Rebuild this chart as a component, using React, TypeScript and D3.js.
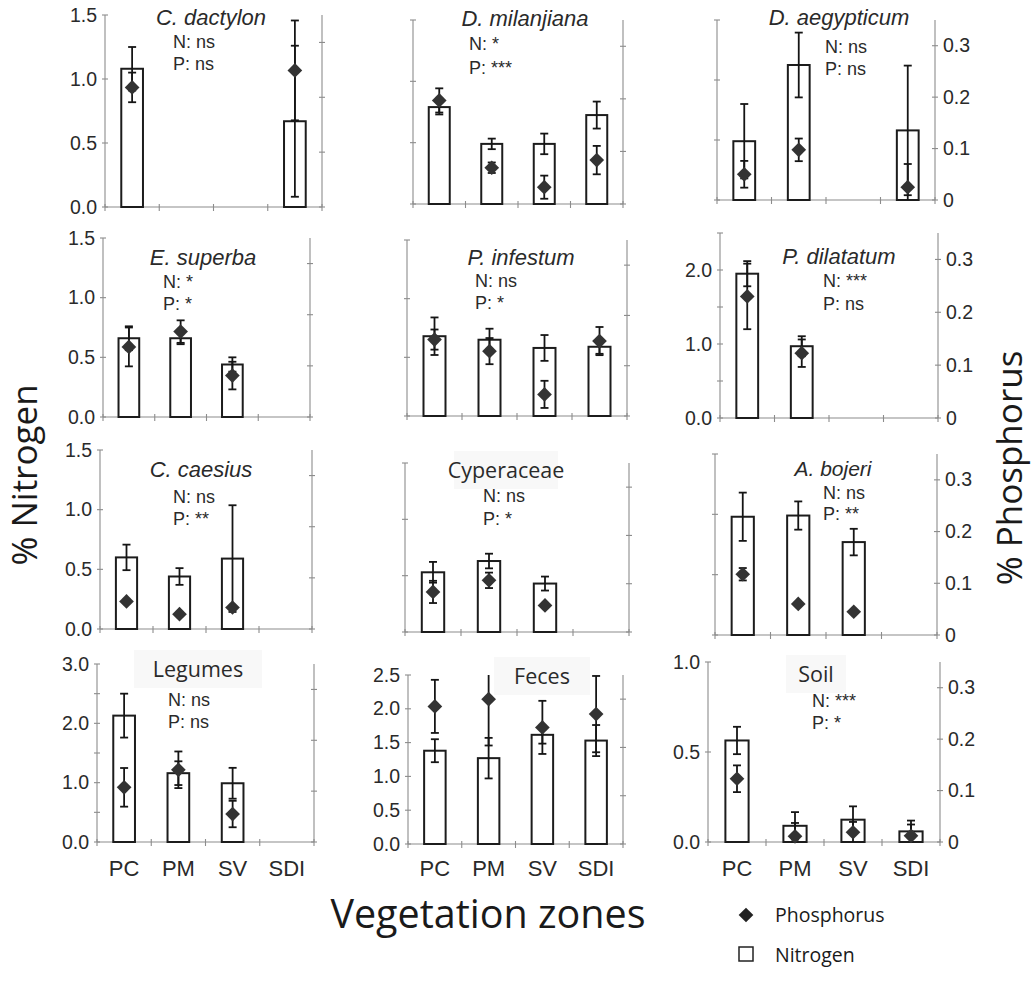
import React from "react";
import * as d3 from "d3";

// ---------- DATA ----------
const zones = ["PC", "PM", "SV", "SDI"];

const panelTitles = [
  "C. dactylon", "D. milanjiana", "D. aegypticum",
  "E. superba", "P. infestum", "P. dilatatum",
  "C. caesius", "Cyperaceae", "A. bojeri",
  "Legumes", "Feces", "Soil",
];
const titleItalic = [true, true, true, true, true, true, true, false, true, false, false, false];

const nSignif = ["ns", "*", "ns", "*", "ns", "***", "ns", "ns", "ns", "ns", null, "***"];
const pSignif = ["ns", "***", "ns", "*", "*", "ns", "**", "*", "**", "ns", null, "*"];

// % Nitrogen axis maximum per panel
const nitrogenMax = [1.5, 1.5, 1.5, 1.5, 1.5, 2.5, 1.5, 1.5, 1.5, 3.0, 2.5, 1.0];
const nitrogenStep = 0.5;
// panels labelled only at whole numbers
const nitrogenWholeLabels = [false, false, false, false, false, true, false, false, false, true, false, false];
const phosphorusMax = 0.35;
const phosphorusTicks = [0, 0.1, 0.2, 0.3];

// Nitrogen means (bars) and errors, per panel, per zone (PC, PM, SV, SDI)
const nitrogenMean: (number | null)[][] = [
  [1.08, null, null, 0.67],
  [0.79, 0.49, 0.49, 0.725],
  [0.49, 1.125, null, 0.58],
  [0.66, 0.66, 0.44, null],
  [0.68, 0.65, 0.58, 0.59],
  [1.95, 0.97, null, null],
  [0.6, 0.44, 0.59, null],
  [0.53, 0.63, 0.43, null],
  [0.98, 0.99, 0.77, null],
  [2.13, 1.16, 0.99, null],
  [1.38, 1.27, 1.615, 1.53],
  [0.564, 0.09, 0.124, 0.059],
];
const nitrogenErr: (number | null)[][] = [
  [0.17, null, null, 0.59],
  [0.06, 0.043, 0.084, 0.11],
  [0.31, 0.27, null, 0.54],
  [0.1, 0.05, 0.06, null],
  [0.16, 0.094, 0.11, 0.06],
  [0.17, 0.135, null, null],
  [0.107, 0.07, 0.447, null],
  [0.092, 0.065, 0.062, null],
  [0.2, 0.117, 0.11, null],
  [0.37, 0.2, 0.26, null],
  [0.17, 0.3, 0.13, 0.23],
  [0.076, 0.076, 0.074, 0.06],
];
// Phosphorus means (diamonds) and errors
const phosphorusMean: (number | null)[][] = [
  [0.218, null, null, 0.249],
  [0.197, 0.069, 0.032, 0.0835],
  [0.05, 0.0975, null, 0.025],
  [0.137, 0.167, 0.081, null],
  [0.152, 0.129, 0.043, 0.149],
  [0.23, 0.1226, null, null],
  [0.054, 0.029, 0.042, null],
  [0.083, 0.107, 0.055, null],
  [0.1175, 0.06, 0.045, null],
  [0.1075, 0.142, 0.055, null],
  [0.285, 0.3, 0.2415, 0.269],
  [0.123, 0.011, 0.019, 0.012],
];
const phosphorusErr: (number | null)[][] = [
  [0.027, null, null, 0.091],
  [0.023, 0.01, 0.022, 0.027],
  [0.026, 0.022, null, 0.045],
  [0.038, 0.022, 0.027, null],
  [0.02, 0.026, 0.027, 0.028],
  [0.062, 0.026, null, null],
  [0, 0, 0, null],
  [0.023, 0.016, 0, null],
  [0.012, 0, 0, null],
  [0.038, 0.036, 0.026, null],
  [0.055, 0.096, 0.055, 0.079],
  [0.026, 0.026, 0.02, 0.022],
];

// ---------- LAYOUT ----------
type Layout = {
  x0: number; x1: number; y0: number; y1: number;
  leftLabels: boolean; rightLabels: boolean; xLabels: boolean;
  tx: number; ty: number; tsize: number; sx: number; sy1: number; sy2: number;
  box?: number; // width of faint title box
};
const layouts: Layout[] = [
  { x0: 105, x1: 322, y0: 15, y1: 207, leftLabels: true, rightLabels: false, xLabels: false, tx: 211, ty: 25, tsize: 22, sx: 173, sy1: 48, sy2: 70 },
  { x0: 413, x1: 623, y0: 20, y1: 204, leftLabels: false, rightLabels: false, xLabels: false, tx: 525, ty: 26, tsize: 22, sx: 469, sy1: 50, sy2: 74 },
  { x0: 717, x1: 935, y0: 20, y1: 200, leftLabels: false, rightLabels: true, xLabels: false, tx: 839, ty: 25, tsize: 22, sx: 825, sy1: 53, sy2: 75 },
  { x0: 103, x1: 310, y0: 238, y1: 417, leftLabels: true, rightLabels: false, xLabels: false, tx: 203, ty: 265, tsize: 22, sx: 163, sy1: 288, sy2: 310 },
  { x0: 407, x1: 627, y0: 240, y1: 416, leftLabels: false, rightLabels: false, xLabels: false, tx: 521, ty: 265, tsize: 22, sx: 475, sy1: 287, sy2: 309 },
  { x0: 720, x1: 938, y0: 233, y1: 418, leftLabels: true, rightLabels: true, xLabels: false, tx: 839, ty: 264, tsize: 22, sx: 823, sy1: 287, sy2: 310 },
  { x0: 100, x1: 312, y0: 450, y1: 629, leftLabels: true, rightLabels: false, xLabels: false, tx: 201, ty: 477, tsize: 22, sx: 173, sy1: 503, sy2: 525 },
  { x0: 405, x1: 629, y0: 463, y1: 632, leftLabels: false, rightLabels: false, xLabels: false, tx: 506, ty: 478, tsize: 21.5, sx: 483, sy1: 502, sy2: 525, box: 104 },
  { x0: 715, x1: 937, y0: 454, y1: 635, leftLabels: false, rightLabels: true, xLabels: false, tx: 833, ty: 476, tsize: 21, sx: 823, sy1: 499, sy2: 520 },
  { x0: 97, x1: 314, y0: 664, y1: 842, leftLabels: true, rightLabels: false, xLabels: true, tx: 198, ty: 677, tsize: 21.5, sx: 168, sy1: 706, sy2: 728, box: 128 },
  { x0: 408, x1: 623, y0: 675, y1: 844, leftLabels: true, rightLabels: false, xLabels: true, tx: 542, ty: 684, tsize: 21.5, sx: 0, sy1: 0, sy2: 0, box: 96 },
  { x0: 708, x1: 940, y0: 662, y1: 842, leftLabels: true, rightLabels: true, xLabels: true, tx: 816, ty: 682, tsize: 21.5, sx: 812, sy1: 707, sy2: 729, box: 60 },
];

const ARIAL = "'Liberation Sans', Arial, sans-serif";
const MYRIAD = "'Open Sans', 'Noto Sans', sans-serif";
const AXIS = "#8c8c8c";
const TXT = "#2a2a2a";

const diamondPath = d3.symbol().type(d3.symbolSquare).size(108)() as string;

function Panel({ i }: { i: number }) {
  const L = layouts[i];
  const x = d3.scaleBand<string>().domain(zones).range([L.x0, L.x1]).padding(0);
  const yN = d3.scaleLinear().domain([0, nitrogenMax[i]]).range([L.y1, L.y0]);
  const yP = d3.scaleLinear().domain([0, phosphorusMax]).range([L.y1, L.y0]);
  const bw = x.bandwidth();
  const barW = bw * 0.4;
  const cap = 4;
  const nTicks = d3.range(0, nitrogenMax[i] + 1e-9, nitrogenStep);
  const fmt = d3.format(".1f");

  const errBar = (cx: number, yScale: d3.ScaleLinear<number, number>, m: number, e: number, max: number, key: string) => {
    if (!e) return null;
    const hi = m + e;
    const lo = Math.max(0, m - e);
    const yHi = yScale(Math.min(hi, max));
    const yLo = yScale(lo);
    return (
      <g key={key} stroke="#151515" strokeWidth={1.8}>
        <line x1={cx} x2={cx} y1={yHi} y2={yLo} />
        {hi <= max && <line x1={cx - cap} x2={cx + cap} y1={yHi} y2={yHi} />}
        {m - e >= 0 && <line x1={cx - cap} x2={cx + cap} y1={yLo} y2={yLo} />}
      </g>
    );
  };

  return (
    <g>
      {/* faint title box */}
      {L.box && (
        <rect x={L.tx - L.box / 2} y={L.ty - 27} width={L.box} height={38} fill="#f8f8f8" />
      )}
      {/* axes */}
      <g stroke={AXIS} strokeWidth={1.1} fill="none">
        <line x1={L.x0} x2={L.x0} y1={L.y0} y2={L.y1} />
        <line x1={L.x1} x2={L.x1} y1={L.y0} y2={L.y1} />
        <line x1={L.x0} x2={L.x1} y1={L.y1} y2={L.y1} />
        {nTicks.map((t) => (
          <line key={"nl" + t} x1={L.x0 - 3} x2={L.x0 + 3} y1={yN(t)} y2={yN(t)} />
        ))}
        {phosphorusTicks.map((t) => (
          <line key={"pr" + t} x1={L.x1 - 3} x2={L.x1 + 3} y1={yP(t)} y2={yP(t)} />
        ))}
        {[...zones.map((z) => x(z) as number), L.x1].map((v, k) => (
          <line key={"xt" + k} x1={v} x2={v} y1={L.y1 - 3} y2={L.y1 + 4} />
        ))}
      </g>
      {/* tick labels */}
      {L.leftLabels &&
        nTicks
          .filter((t) => !nitrogenWholeLabels[i] || Math.abs(t - Math.round(t)) < 1e-9)
          .map((t) => (
            <text key={"nlab" + t} x={L.x0 - 8} y={yN(t) + 6.5} textAnchor="end" fontFamily={ARIAL} fontSize={19.5} fill={TXT}>
              {fmt(t)}
            </text>
          ))}
      {L.rightLabels &&
        phosphorusTicks.map((t) => (
          <text key={"plab" + t} x={L.x1 + 8} y={yP(t) + 6.5} textAnchor="start" fontFamily={ARIAL} fontSize={19.5} fill={TXT}>
            {t === 0 ? "0" : fmt(t)}
          </text>
        ))}
      {L.xLabels &&
        zones.map((z) => (
          <text key={"xl" + z} x={(x(z) as number) + bw / 2} y={876} textAnchor="middle" fontFamily={ARIAL} fontSize={22} fill={TXT}>
            {z}
          </text>
        ))}
      {/* bars */}
      {zones.map((z, k) => {
        const v = nitrogenMean[i][k];
        if (v == null) return null;
        const cx = (x(z) as number) + bw / 2;
        return (
          <rect key={"bar" + z} x={cx - barW / 2} y={yN(v)} width={barW} height={yN(0) - yN(v)} fill="#fff" stroke="#1c1c1c" strokeWidth={2} />
        );
      })}
      {/* nitrogen errors */}
      {zones.map((z, k) => {
        const v = nitrogenMean[i][k];
        const e = nitrogenErr[i][k];
        if (v == null || e == null) return null;
        return errBar((x(z) as number) + bw / 2, yN, v, e, nitrogenMax[i], "ne" + z);
      })}
      {/* phosphorus errors */}
      {zones.map((z, k) => {
        const v = phosphorusMean[i][k];
        const e = phosphorusErr[i][k];
        if (v == null || e == null) return null;
        return errBar((x(z) as number) + bw / 2, yP, v, e, phosphorusMax, "pe" + z);
      })}
      {/* diamonds */}
      {zones.map((z, k) => {
        const v = phosphorusMean[i][k];
        if (v == null) return null;
        const cx = (x(z) as number) + bw / 2;
        return (
          <path key={"dm" + z} d={diamondPath} transform={`translate(${cx},${yP(v)}) rotate(45)`} fill="#333" />
        );
      })}
      {/* title */}
      <text
        x={L.tx}
        y={L.ty}
        textAnchor="middle"
        fontFamily={titleItalic[i] ? ARIAL : MYRIAD}
        fontStyle={titleItalic[i] ? "italic" : "normal"}
        fontSize={L.tsize}
        fill={TXT}
      >
        {panelTitles[i]}
      </text>
      {nSignif[i] && (
        <text x={L.sx} y={L.sy1} fontFamily={ARIAL} fontSize={18} fill={TXT}>
          {"N: " + nSignif[i]}
        </text>
      )}
      {pSignif[i] && (
        <text x={L.sx} y={L.sy2} fontFamily={ARIAL} fontSize={18} fill={TXT}>
          {"P: " + pSignif[i]}
        </text>
      )}
    </g>
  );
}

export default function App() {
  return (
    <svg width={1031} height={993} style={{ position: "absolute", left: 0, top: 0, background: "#fff" }}>
      <rect width={1031} height={993} fill="#fff" />
      {panelTitles.map((_, i) => (
        <Panel key={i} i={i} />
      ))}
      {/* axis titles */}
      <text transform="translate(37,475) rotate(-90)" textAnchor="middle" fontFamily={MYRIAD} fontSize={35} fill="#1a1a1a">
        % Nitrogen
      </text>
      <text transform="translate(1022,468) rotate(-90)" textAnchor="middle" fontFamily={MYRIAD} fontSize={35} fill="#1a1a1a">
        % Phosphorus
      </text>
      <text x={488} y={928} textAnchor="middle" fontFamily={MYRIAD} fontSize={39.5} fill="#1a1a1a">
        Vegetation zones
      </text>
      {/* legend */}
      <path d={diamondPath} transform="translate(746,915) rotate(45)" fill="#222" />
      <text x={775} y={922} fontFamily={MYRIAD} fontSize={19.5} fill="#1a1a1a">
        Phosphorus
      </text>
      <rect x={739} y={947} width={14} height={14} fill="#fff" stroke="#222" strokeWidth={1.5} />
      <text x={775} y={962} fontFamily={MYRIAD} fontSize={19.5} fill="#1a1a1a">
        Nitrogen
      </text>
    </svg>
  );
}
